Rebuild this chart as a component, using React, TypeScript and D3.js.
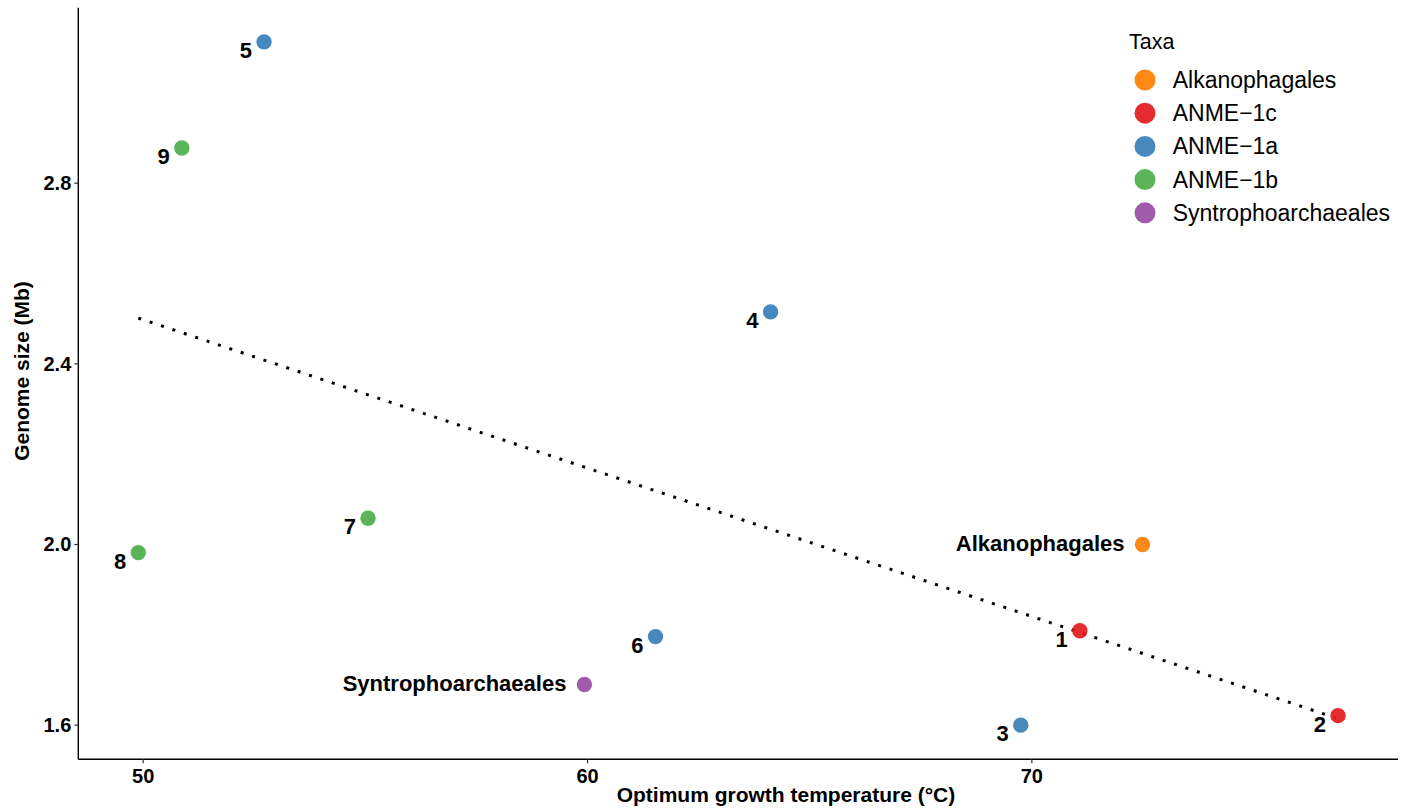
import * as d3 from "d3";

// values
const labels = ["5", "9", "4", "7", "8", "6", "Syntrophoarchaeales", "3", "Alkanophagales", "1", "2"];
const taxa = ["ANME-1a", "ANME-1b", "ANME-1a", "ANME-1b", "ANME-1b", "ANME-1a", "Syntrophoarchaeales", "ANME-1a", "Alkanophagales", "ANME-1c", "ANME-1c"];
const temps = [52.72, 50.87, 64.12, 55.06, 49.89, 61.53, 59.93, 69.75, 72.49, 71.08, 76.89];
const genomeSizes = [3.113, 2.878, 2.515, 2.058, 1.982, 1.796, 1.69, 1.6, 2.0, 1.809, 1.621];

const taxaOrder = ["Alkanophagales", "ANME-1c", "ANME-1a", "ANME-1b", "Syntrophoarchaeales"];
const taxaColors = ["#FF7F00", "#E41A1C", "#377EB8", "#4DAF4A", "#984EA3"];
const xTicks = [50, 60, 70];
const yTicks = [1.6, 2.0, 2.4, 2.8];

const W = 1408;
const H = 808;
const margin = { top: 7.7, right: 10, bottom: 48.7, left: 78.3 };
const font = "'Liberation Sans', Arial, sans-serif";

export default function App() {
  const xExt = d3.extent(temps) as [number, number];
  const yExt = d3.extent(genomeSizes) as [number, number];
  const xPad = (xExt[1] - xExt[0]) * 0.05;
  const yPad = (yExt[1] - yExt[0]) * 0.05;

  const x = d3
    .scaleLinear()
    .domain([xExt[0] - xPad, xExt[1] + xPad])
    .range([margin.left, W - margin.right]);
  const y = d3
    .scaleLinear()
    .domain([yExt[0] - yPad, yExt[1] + yPad])
    .range([H - margin.bottom, margin.top]);
  const color = d3.scaleOrdinal<string>().domain(taxaOrder).range(taxaColors);

  // least-squares fit, like geom_smooth(method = "lm")
  const mx = d3.mean(temps)!;
  const my = d3.mean(genomeSizes)!;
  const slope =
    d3.sum(temps, (t, i) => (t - mx) * (genomeSizes[i] - my)) /
    d3.sum(temps, (t) => (t - mx) * (t - mx));
  const fit = (t: number) => my + slope * (t - mx);
  const line = d3.line<number>()
    .x((t) => x(t))
    .y((t) => y(fit(t)));

  const bottom = H - margin.bottom;

  return (
    <>
      <style>{"body{margin:0}"}</style>
      <svg width={W} height={H} style={{ display: "block", fontFamily: font }}>
        <rect width={W} height={H} fill="white" />

        {/* axes */}
        <line x1={margin.left} x2={margin.left} y1={margin.top} y2={bottom} stroke="black" strokeWidth={1.4} />
        <line x1={margin.left} x2={W - margin.right} y1={bottom} y2={bottom} stroke="black" strokeWidth={1.4} />

        {xTicks.map((t) => (
          <g key={t}>
            <line x1={x(t)} x2={x(t)} y1={bottom} y2={bottom + 4} stroke="#333" strokeWidth={1.2} />
            <text x={x(t)} y={bottom + 24} textAnchor="middle" fontSize={20} fontWeight="bold" fill="black">
              {t}
            </text>
          </g>
        ))}
        {yTicks.map((t) => (
          <g key={t}>
            <line x1={margin.left - 4} x2={margin.left} y1={y(t)} y2={y(t)} stroke="#333" strokeWidth={1.2} />
            <text x={margin.left - 7} y={y(t) + 7} textAnchor="end" fontSize={20} fontWeight="bold" fill="black">
              {d3.format(".1f")(t)}
            </text>
          </g>
        ))}

        <text x={786} y={802} textAnchor="middle" fontSize={21} fontWeight="bold" fill="black">
          Optimum growth temperature (°C)
        </text>
        <text
          transform={`translate(29,371) rotate(-90)`}
          textAnchor="middle"
          fontSize={21}
          fontWeight="bold"
          fill="black"
        >
          Genome size (Mb)
        </text>

        {/* trend line */}
        <path
          d={line(xExt) ?? ""}
          fill="none"
          stroke="black"
          strokeWidth={3}
          strokeDasharray="3 9"
        />

        {/* points */}
        {temps.map((t, i) => (
          <circle key={i} cx={x(t)} cy={y(genomeSizes[i])} r={7.7} fill={color(taxa[i])} opacity={0.92} />
        ))}

        {/* labels */}
        {temps.map((t, i) => {
          const named = labels[i].length > 2;
          return (
            <text
              key={i}
              x={x(t) - (named ? 18 : 12)}
              y={y(genomeSizes[i]) + (named ? 7 : 16)}
              textAnchor="end"
              fontSize={22}
              fontWeight="bold"
              fill="black"
            >
              {labels[i]}
            </text>
          );
        })}

        {/* legend */}
        <g>
          <text x={1129} y={49} fontSize={21.5} fill="black">
            Taxa
          </text>
          {taxaOrder.map((name, i) => {
            const cy = 80 + i * 33.2;
            return (
              <g key={name}>
                <circle cx={1145} cy={cy} r={10.5} fill={color(name)} opacity={0.92} />
                <text x={1172.7} y={cy + 8} fontSize={23} fill="black">
                  {name.replace("-", "\u2212")}
                </text>
              </g>
            );
          })}
        </g>
      </svg>
    </>
  );
}
